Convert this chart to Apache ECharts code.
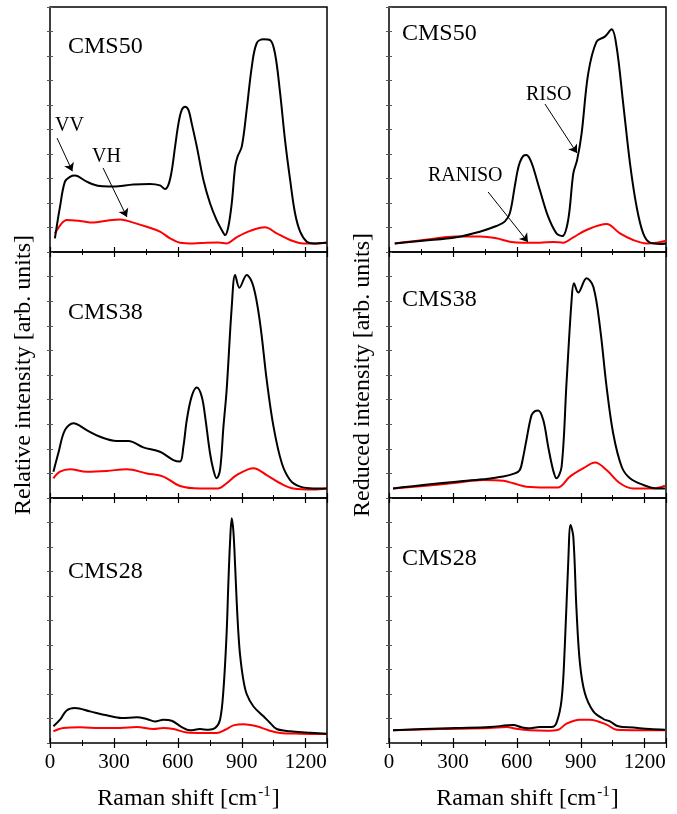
<!DOCTYPE html>
<html lang="en">
<head>
<meta charset="UTF-8">
<title>Raman spectra CMS</title>
<style>html,body{margin:0;padding:0;background:#fff}#main{width:677px;height:814px}</style>
</head>
<body>
<div id="main"></div>
<script src="https://cdn.jsdelivr.net/npm/echarts@6/dist/echarts.min.js"></script>
<script>
// Raman shift (cm-1) vs intensity (arb. units, 0-100 per panel)
var cms50VV = [[23,5.6],[47,18.5],[70,28.7],[94,30.7],[117,31.2],[172,28.7],[235,26.9],[297,26.7],[391,27.6],[469,27.8],[516,27.2],[540,25.7],[556,27.5],[571,33],[587,43],[603,52.5],[618,57.9],[634,59.3],[650,57.9],[665,52.5],[689,43],[720,29.4],[751,19.9],[782,13],[806,9],[822,6.9],[837,10.3],[853,19.9],[869,34.8],[880,38.9],[900,43],[923,58],[947,75.6],[970,85.2],[1002,86.8],[1033,86.5],[1056,81],[1080,64.8],[1103,45.7],[1127,29.4],[1150,15.8],[1174,8.3],[1205,4.2],[1236,3.5],[1299,3.8]];
var cms50VH = [[23,7.6],[55,11.7],[78,13.1],[141,12.7],[203,12],[266,12.8],[329,13.3],[391,12],[454,10.3],[516,8.3],[563,5.6],[610,3.8],[673,3.5],[735,3.8],[790,3.9],[829,3.5],[876,6],[939,8.6],[1009,10.1],[1064,7.6],[1127,4.9],[1189,3.5],[1252,3.5],[1299,3.9]];
var cms38VV = [[16,10.7],[39,18.2],[70,27.6],[110,30.4],[172,27.6],[235,24.9],[313,23.2],[368,23.2],[438,20.6],[516,18.8],[579,15.4],[610,14.8],[626,20.9],[642,31.7],[665,41.3],[689,44.9],[712,41.3],[728,33.1],[751,18.2],[767,11.4],[782,8],[798,11.4],[814,29],[829,43.9],[853,77.8],[869,90.7],[889,85.5],[923,90.7],[955,85.9],[986,71],[1017,48],[1049,29],[1088,14.1],[1127,7.3],[1174,4.6],[1236,3.9],[1299,3.9]];
var cms38VH = [[16,8],[47,10.7],[94,11.7],[172,10.7],[266,11],[360,11.7],[454,10],[532,8.7],[610,4.9],[704,3.9],[790,3.9],[829,6],[876,9.3],[955,12.1],[1017,9.3],[1080,6],[1142,3.9],[1236,3.5],[1299,3.9]];
var cms28VV = [[16,6.8],[47,9.5],[78,13.3],[117,14.3],[188,12.9],[266,11.3],[337,10.2],[407,10.5],[454,9.8],[493,8.8],[532,9.5],[571,9.1],[618,6.5],[657,5.2],[704,5.7],[743,5.4],[775,6.1],[798,9.5],[814,21.7],[829,45],[837,65],[845,82],[853,91.7],[861,86],[869,72],[876,58],[884,45],[892,36],[907,26],[923,20],[955,14.9],[1002,10.9],[1033,8.2],[1064,5.7],[1127,4.8],[1205,4.3],[1299,3.8]];
var cms28VH = [[16,4.8],[63,6.1],[141,6.4],[235,6.1],[329,6.1],[407,6.5],[485,5.7],[532,6.1],[579,5.7],[642,4.3],[720,4.1],[782,4.1],[822,5.4],[861,7.2],[908,7.7],[970,6.8],[1025,5.2],[1080,4.1],[1174,3.8],[1299,3.7]];

var cms50RISO = [[27,3.5],[160,4.6],[316,6],[426,8.3],[504,10.6],[543,12.4],[567,15.8],[590,26.7],[603,33],[614,36.6],[630,39.2],[645,39.6],[660,38.2],[675,35],[708,25.3],[747,14.4],[786,7.6],[814,6.5],[841,13.1],[865,32.1],[883,37.6],[904,48.4],[935,72.9],[974,85.9],[1013,87.9],[1045,90.9],[1068,83.8],[1099,60.7],[1131,36.2],[1162,18.5],[1193,7.6],[1225,3.8],[1272,3.3],[1300,3.5]];
var cms50RANISO = [[27,3.5],[160,4.9],[316,6.3],[426,6.3],[504,5.6],[567,4.2],[630,3.8],[708,3.8],[771,4.1],[817,3.8],[865,6],[927,9],[1021,11.4],[1084,7.6],[1146,4.9],[1209,3.5],[1256,3.8],[1300,4.6]];
var cms38RISO = [[19,3.9],[160,5.3],[316,6.6],[442,7.6],[536,8.7],[590,10],[614,11.4],[630,16.8],[645,23.6],[669,33.7],[685,35.3],[700,35.6],[724,31.7],[747,20.9],[770,11.4],[786,8],[810,12.7],[833,46.6],[857,80.5],[868,87.3],[888,83.5],[927,89.3],[959,85.9],[990,69.6],[1021,45.3],[1052,26.3],[1092,12.7],[1131,8],[1194,5.3],[1256,3.9],[1295,3.9]];
var cms38RANISO = [[19,3.9],[160,4.9],[316,6.2],[442,7.3],[536,7],[583,6],[645,4.6],[739,4.3],[794,4.3],[849,8.7],[912,12.1],[967,14.4],[1021,11.4],[1084,6],[1146,3.9],[1240,3.9],[1295,5]];
var cms28RISO = [[19,5.2],[160,5.7],[316,6.1],[473,6.5],[583,7.3],[622,6.4],[653,6],[708,6.5],[763,6.5],[786,8.2],[810,17.7],[825,39.4],[841,73.4],[852,89],[865,84.2],[880,54.3],[896,32.6],[919,20.4],[959,12.9],[1006,9.8],[1037,8.8],[1076,6.8],[1146,6.3],[1225,5.7],[1295,5.4]];
var cms28RANISO = [[19,5.2],[238,5.7],[473,6.1],[552,6.5],[598,5.8],[661,5.2],[739,5],[794,5.4],[833,7.9],[896,9.5],[943,9.5],[1021,7.5],[1068,5.4],[1178,5.2],[1295,5.2]];

var xTicks = [0, 300, 600, 900, 1200];

var FONT = 'Liberation Serif, Times New Roman, serif';
var colLeft = [50, 389];
var rowTop = [7, 252, 498];
var rowH = [245, 246, 245];
var panelW = 277;

// each panel: [col, row, black curve, red curve]
var panels = [
    [0, 0, cms50VV, cms50VH],
    [0, 1, cms38VV, cms38VH],
    [0, 2, cms28VV, cms28VH],
    [1, 0, cms50RISO, cms50RANISO],
    [1, 1, cms38RISO, cms38RANISO],
    [1, 2, cms28RISO, cms28RANISO]
];

// arrows in data coords: panel index, from, to
var arrows = [
    [0, [33, 46.5], [105, 33]],
    [0, [249, 34.3], [361, 14.3]],
    [3, [732, 60.4], [882, 40.4]],
    [3, [465, 24.5], [652, 4.1]]
];

var grids = [], xAxes = [], yAxes = [], series = [];
panels.forEach(function (p, i) {
    grids.push({
        left: colLeft[p[0]], top: rowTop[p[1]], width: panelW, height: rowH[p[1]],
        show: true, borderColor: '#000', borderWidth: 1.5, backgroundColor: 'transparent'
    });
    var bottomRow = p[1] === 2;
    var xBase = {
        gridIndex: i, type: 'value', min: 0, max: 1300, interval: 300,
        axisLine: {show: false},
        axisTick: {inside: true, length: 5, lineStyle: {color: '#000', width: 1.2}},
        minorTick: {show: true, splitNumber: 2, length: 3, lineStyle: {color: '#000', width: 1}},
        splitLine: {show: false}
    };
    xAxes.push(Object.assign({}, xBase, {
        position: 'bottom',
        axisLabel: {
            show: bottomRow, color: '#000', fontSize: 21, fontFamily: FONT, margin: 9,
            formatter: function (v) { return xTicks.indexOf(v) >= 0 ? String(v) : ''; }
        },
        name: bottomRow ? 'Raman shift [cm{sup|-1}]' : '',
        nameLocation: 'middle', nameGap: 42,
        nameTextStyle: {
            color: '#000', fontSize: 24, fontFamily: FONT,
            rich: {sup: {fontSize: 15, fontFamily: FONT, color: '#000', verticalAlign: 'top', padding: [0, 1, 12, 1]}}
        }
    }));
    xAxes.push(Object.assign({}, xBase, {position: 'top', axisLabel: {show: false}}));
    var yBase = {
        gridIndex: i, type: 'value', min: 0, max: 100, interval: 10,
        axisLine: {show: false},
        axisTick: {inside: true, length: 3, lineStyle: {color: '#555', width: 1}},
        axisLabel: {show: false}, splitLine: {show: false}
    };
    var yName = '';
    if (p[1] === 1) yName = p[0] === 0 ? 'Relative intensity [arb. units]' : 'Reduced intensity [arb. units]';
    yAxes.push(Object.assign({}, yBase, {
        position: 'left', name: yName, nameLocation: 'middle', nameGap: 14,
        nameTextStyle: {color: '#000', fontSize: 24, fontFamily: FONT}
    }));
    yAxes.push(Object.assign({}, yBase, {position: 'right'}));

    var marks = arrows.filter(function (a) { return a[0] === i; }).map(function (a) {
        return [{coord: a[1]}, {coord: a[2]}];
    });
    series.push({
        type: 'line', xAxisIndex: i * 2, yAxisIndex: i * 2, data: p[2],
        showSymbol: false, smooth: 0.35, lineStyle: {color: '#000', width: 2}, z: 3,
        markLine: marks.length ? {
            silent: true, symbol: ['none', 'arrow'], symbolSize: 8,
            lineStyle: {color: '#000', width: 1, type: 'solid'},
            label: {show: false}, data: marks
        } : undefined
    });
    series.push({
        type: 'line', xAxisIndex: i * 2, yAxisIndex: i * 2, data: p[3],
        showSymbol: false, smooth: 0.35, lineStyle: {color: '#ff0000', width: 2}, z: 2
    });
});

function label(text, x, y, size) {
    return {type: 'text', x: x, y: y, style: {text: text, fontSize: size, fontFamily: FONT, fill: '#000', verticalAlign: 'middle'}};
}

var chart = echarts.init(document.getElementById('main'));
chart.setOption({
    animation: false,
    backgroundColor: '#fff',
    grid: grids,
    xAxis: xAxes,
    yAxis: yAxes,
    series: series,
    graphic: [
        label('CMS50', 68, 47, 24),
        label('CMS38', 68, 313, 24),
        label('CMS28', 68, 572, 24),
        label('CMS50', 402, 34, 24),
        label('CMS38', 402, 300, 24),
        label('CMS28', 402, 559, 24),
        label('VV', 55, 126, 20),
        label('VH', 92, 157, 20),
        label('RISO', 526, 95, 20),
        label('RANISO', 428, 176, 20)
    ]
});
</script>
</body>
</html>
